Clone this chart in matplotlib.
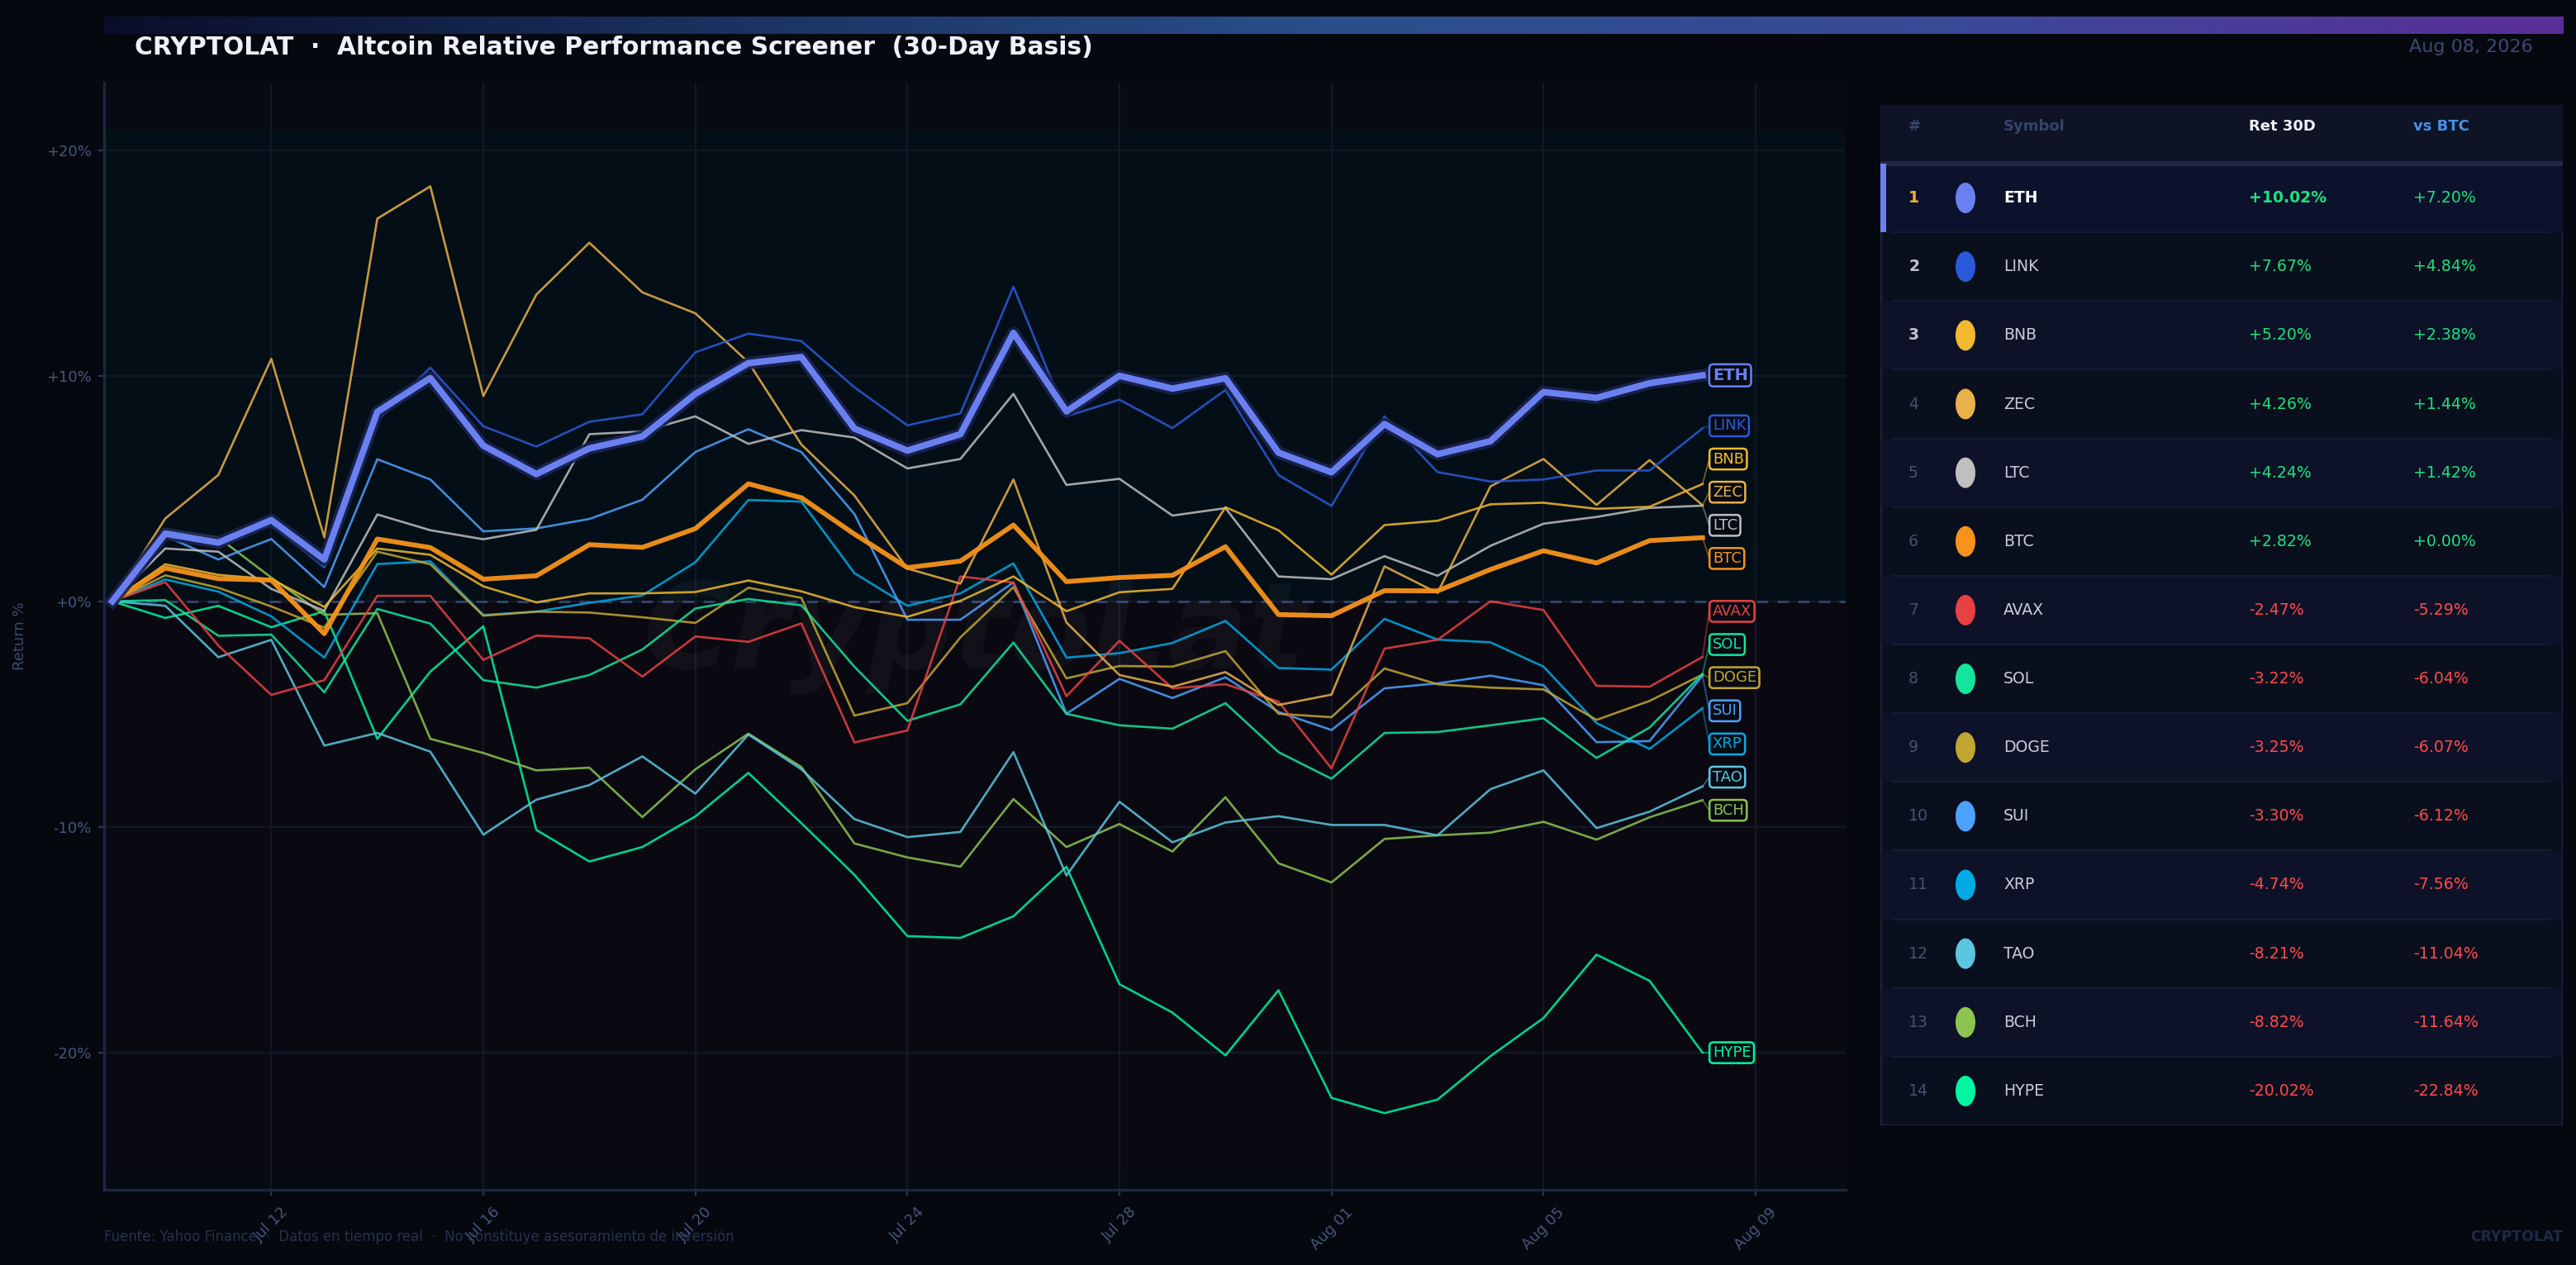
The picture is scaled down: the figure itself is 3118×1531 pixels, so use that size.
import numpy as np
import pandas as pd
import matplotlib
matplotlib.use('Agg')
import matplotlib.pyplot as plt
import matplotlib.dates as mdates
from matplotlib.patches import Ellipse, Rectangle
from matplotlib.colors import LinearSegmentedColormap
import matplotlib.patheffects as pe

# ---------------- data ----------------
dates = pd.date_range('2026-07-09', periods=31, freq='D')

ETH = [0, 3.0, 2.6, 3.6, 1.85, 8.4, 9.9, 6.9, 5.64, 6.78, 7.31, 9.2, 10.56, 10.83, 7.66, 6.68,
       7.41, 11.9, 8.42, 10.0, 9.43, 9.89, 6.59, 5.72, 7.86, 6.52, 7.1, 9.28, 9.02, 9.67, 10.02]
LINK = [0, 3.1, 2.5, 3.4, 1.5, 8.02, 10.36, 7.76, 6.86, 7.96, 8.29, 11.04, 11.87, 11.54, 9.49, 7.8,
        8.33, 13.95, 8.2, 8.94, 7.68, 9.37, 5.6, 4.23, 8.2, 5.73, 5.31, 5.4, 5.8, 5.8, 7.67]
BNB = [0, 1.64, 1.17, 0.98, -0.25, 2.34, 2.06, 0.66, -0.05, 0.35, 0.35, 0.41, 0.92, 0.44, -0.26, -0.69,
       0.02, 1.1, -0.44, 0.4, 0.55, 4.17, 3.15, 1.18, 3.38, 3.57, 4.3, 4.37, 4.1, 4.19, 5.20]
ZEC = [0, 3.67, 5.6, 10.75, 2.83, 16.97, 18.4, 9.1, 13.6, 15.9, 13.7, 12.77, 10.6, 6.95, 4.69, 1.45,
       0.78, 5.4, -0.94, -3.27, -3.79, -3.14, -4.6, -4.14, 1.55, 0.37, 5.1, 6.31, 4.27, 6.26, 4.26]
LTC = [0, 2.34, 2.2, 0.55, -0.42, 3.85, 3.15, 2.75, 3.17, 7.41, 7.53, 8.2, 6.98, 7.59, 7.26, 5.89,
       6.31, 9.2, 5.16, 5.43, 3.8, 4.13, 1.1, 0.98, 2.0, 1.13, 2.46, 3.44, 3.74, 4.14, 4.24]
BTC = [0, 1.47, 1.0, 0.94, -1.44, 2.76, 2.38, 0.98, 1.13, 2.51, 2.39, 3.22, 5.21, 4.59, 2.98, 1.49,
       1.78, 3.38, 0.87, 1.05, 1.15, 2.42, -0.59, -0.64, 0.47, 0.46, 1.41, 2.24, 1.7, 2.69, 2.82]
AVAX = [0, 0.85, -1.96, -4.15, -3.5, 0.24, 0.24, -2.6, -1.52, -1.64, -3.34, -1.56, -1.8, -0.98, -6.26, -5.73,
        1.1, 0.83, -4.21, -1.75, -3.86, -3.68, -4.45, -7.41, -2.1, -1.71, 0.0, -0.39, -3.75, -3.79, -2.47]
SOL = [0, 0.05, -1.53, -1.48, -4.04, -0.34, -0.99, -3.5, -3.83, -3.27, -2.14, -0.32, 0.1, -0.18, -2.9, -5.3,
       -4.57, -1.83, -4.99, -5.5, -5.65, -4.52, -6.69, -7.87, -5.84, -5.8, -5.5, -5.19, -6.95, -5.6, -3.22]
DOGE = [0, 1.15, 0.6, -0.23, -1.17, 2.2, 1.64, -0.64, -0.46, -0.5, -0.71, -0.96, 0.6, 0.15, -5.07, -4.52,
        -1.6, 0.63, -3.42, -2.87, -2.9, -2.21, -4.99, -5.14, -2.98, -3.68, -3.83, -3.91, -5.26, -4.42, -3.25]
SUI = [0, 2.9, 1.85, 2.76, 0.63, 6.3, 5.4, 3.1, 3.23, 3.65, 4.5, 6.62, 7.63, 6.62, 3.87, -0.82,
       -0.82, 0.84, -4.99, -3.44, -4.29, -3.37, -4.91, -5.71, -3.86, -3.64, -3.3, -3.72, -6.25, -6.2, -3.30]
XRP = [0, 0.97, 0.43, -0.67, -2.5, 1.65, 1.77, -0.61, -0.46, -0.07, 0.26, 1.73, 4.49, 4.42, 1.25, -0.2,
       0.35, 1.68, -2.5, -2.3, -1.85, -0.87, -2.96, -3.03, -0.78, -1.7, -1.82, -2.9, -5.4, -6.55, -4.74]
TAO = [0, -0.2, -2.48, -1.71, -6.4, -5.84, -6.67, -10.35, -8.8, -8.15, -6.88, -8.53, -5.91, -7.45, -9.66, -10.46,
       -10.23, -6.69, -12.16, -8.89, -10.69, -9.81, -9.53, -9.92, -9.92, -10.38, -8.33, -7.5, -10.06, -9.33, -8.21]
BCH = [0, 3.15, 2.83, 1.05, -0.6, -0.53, -6.1, -6.73, -7.5, -7.38, -9.57, -7.45, -5.87, -7.35, -10.74, -11.36,
       -11.77, -8.77, -10.9, -9.88, -11.1, -8.69, -11.62, -12.47, -10.54, -10.38, -10.26, -9.78, -10.57, -9.58, -8.82]
HYPE = [0, -0.74, -0.2, -1.15, -0.44, -6.1, -3.12, -1.11, -10.14, -11.54, -10.9, -9.54, -7.61, -9.84, -12.13, -14.85,
        -14.93, -13.97, -11.77, -16.98, -18.24, -20.14, -17.25, -22.02, -22.7, -22.1, -20.17, -18.48, -15.67, -16.83, -20.02]

symbols = ['ETH', 'LINK', 'BNB', 'ZEC', 'LTC', 'BTC', 'AVAX', 'SOL', 'DOGE', 'SUI', 'XRP', 'TAO', 'BCH', 'HYPE']
series = {'ETH': ETH, 'LINK': LINK, 'BNB': BNB, 'ZEC': ZEC, 'LTC': LTC, 'BTC': BTC, 'AVAX': AVAX,
          'SOL': SOL, 'DOGE': DOGE, 'SUI': SUI, 'XRP': XRP, 'TAO': TAO, 'BCH': BCH, 'HYPE': HYPE}
ret_30d = [10.02, 7.67, 5.20, 4.26, 4.24, 2.82, -2.47, -3.22, -3.25, -3.30, -4.74, -8.21, -8.82, -20.02]
vs_btc = [7.20, 4.84, 2.38, 1.44, 1.42, 0.00, -5.29, -6.04, -6.07, -6.12, -7.56, -11.04, -11.64, -22.84]

xtick_dates = ['2026-07-12', '2026-07-16', '2026-07-20', '2026-07-24', '2026-07-28',
               '2026-08-01', '2026-08-05', '2026-08-09']
ytick_vals = [-20, -10, 0, 10, 20]

title = 'CRYPTOLAT  \u00b7  Altcoin Relative Performance Screener  (30-Day Basis)'
date_text = 'Aug 08, 2026'
footer = 'Fuente: Yahoo Finance  \u00b7  Datos en tiempo real  \u00b7  No constituye asesoramiento de inversi\u00f3n'

# ---------------- styles ----------------
colors = {'ETH': '#6b80f0', 'LINK': '#2a5ada', 'BNB': '#f3ba2f', 'ZEC': '#e9b14a', 'LTC': '#bfbfbf',
          'BTC': '#f7931a', 'AVAX': '#e84142', 'SOL': '#14e59a', 'DOGE': '#c2a633', 'SUI': '#4da2ff',
          'XRP': '#00aae4', 'TAO': '#5cc6e0', 'BCH': '#8dc351', 'HYPE': '#00f5a0'}

W, H = 3118, 1531
fig = plt.figure(figsize=(W / 200, H / 200), dpi=200, facecolor='#05080f')

# gradient bar
axb = fig.add_axes([126 / W, 1 - 41 / H, (3102 - 126) / W, 21 / H])
cmap = LinearSegmentedColormap.from_list('bar', ['#0a0e2a', '#1a3260', '#2a4f8a', '#3a4a98', '#5a2e98'])
axb.imshow(np.linspace(0, 1, 512)[None, :], aspect='auto', cmap=cmap, extent=[0, 1, 0, 1])
axb.axis('off')

fig.text(163 / W, 1 - 57 / H, title, fontsize=10.7, fontweight='bold', color='#eef0fa', va='center')
fig.text(3066 / W, 1 - 57 / H, date_text, fontsize=8, color='#3d4a6e', ha='right', va='center')
fig.text(126 / W, 1 - 1497 / H, footer, fontsize=6, color='#28324d', ha='left', va='center')
fig.text(3102 / W, 1 - 1497 / H, 'CRYPTOLAT', fontsize=6.2, fontweight='bold', color='#1e2a46',
         ha='right', va='center')

# ---------------- main axes ----------------
ax = fig.add_axes([126 / W, 1 - 1440 / H, (2234 - 126) / W, (1440 - 100) / H])
ax.set_facecolor('#060a11')
ax.axhspan(0, 20.8, color='#040e16', zorder=0)
ax.axhspan(-25.2, 0, color='#0a0912', zorder=0)
ax.grid(True, color='#121828', lw=0.8, zorder=0.5)
ax.set_axisbelow(True)
ax.axhline(0, color='#34456c', lw=1.0, ls=(0, (5, 4)), zorder=1)

ax.text(0.5, 0.5, 'CryptoLat', transform=ax.transAxes, fontsize=52, fontweight='bold',
        style='italic', color='white', alpha=0.035, ha='center', va='center', zorder=1)

order_draw = [s for s in symbols if s not in ('ETH', 'BTC')][::-1]
for s in order_draw:
    ax.plot(dates, series[s], color=colors[s], lw=0.95, alpha=0.85, zorder=3)
ax.plot(dates, BTC, color=colors['BTC'], lw=2.1, alpha=0.95, zorder=4)
ax.plot(dates, ETH, color=colors['ETH'], lw=2.8, zorder=5,
        path_effects=[pe.Stroke(linewidth=5.4, foreground='#1a2350', alpha=0.9), pe.Normal()])

ax.set_ylim(-26.1, 23.0)
x0 = dates[0] - pd.Timedelta(hours=3.7)
x1 = dates[0] + pd.Timedelta(days=32.7)
ax.set_xlim(x0, x1)

ax.set_yticks(ytick_vals)
ax.set_yticklabels(['{:+.0f}%'.format(v) for v in ytick_vals])
ax.set_xticks(pd.to_datetime(xtick_dates))
ax.xaxis.set_major_formatter(mdates.DateFormatter('%b %d'))
ax.tick_params(axis='both', colors='#2a3656', labelcolor='#46567c', labelsize=6.5, length=2.5, width=0.8)
ax.tick_params(axis='y', pad=3)
ax.tick_params(axis='x', pad=4)
for lab in ax.get_xticklabels():
    lab.set_rotation(45)
    lab.set_ha('center')
for sp in ['top', 'right']:
    ax.spines[sp].set_visible(False)
for sp in ['left', 'bottom']:
    ax.spines[sp].set_color('#1c2643')
    ax.spines[sp].set_linewidth(1.2)
fig.text(24 / W, 1 - 770 / H, 'Return %', rotation=90, fontsize=6.5, color='#3a4a6e',
         ha='center', va='center')

# ---------------- end labels with declutter ----------------
def spread(vals, gap):
    idx = sorted(range(len(vals)), key=lambda i: -vals[i])
    clusters = [[i] for i in idx]
    def center(c):
        return sum(vals[i] for i in c) / len(c)
    changed = True
    while changed:
        changed = False
        for k in range(len(clusters) - 1):
            a, b = clusters[k], clusters[k + 1]
            bot_a = center(a) - gap * (len(a) - 1) / 2
            top_b = center(b) + gap * (len(b) - 1) / 2
            if bot_a - top_b < gap:
                clusters[k] = a + b
                del clusters[k + 1]
                changed = True
                break
    pos = {}
    for c in clusters:
        cc = center(c)
        top = cc + gap * (len(c) - 1) / 2
        for j, i in enumerate(c):
            pos[i] = top - gap * j
    return [pos[i] for i in range(len(vals))]

finals = [series[s][-1] for s in symbols]
label_y = spread(finals, 1.47)
last = dates[-1]
lx = last + pd.Timedelta(hours=4.5)
cx = last + pd.Timedelta(hours=3.0)
for s, v, ly in zip(symbols, finals, label_y):
    c = colors[s]
    ax.plot([last, cx], [v, ly], color=c, lw=0.6, alpha=0.5, zorder=2)
    ax.text(lx, ly, s, color=c, fontsize=7 if s == 'ETH' else 6.5,
            fontweight='bold' if s == 'ETH' else 'normal', ha='left', va='center', zorder=6,
            bbox=dict(boxstyle='round,pad=0.2,rounding_size=0.25', fc='#070b14', ec=c, lw=0.9))

# ---------------- table ----------------
TL, TT, TW, TH = 2276, 127, 826, 1235
axt = fig.add_axes([TL / W, 1 - (TT + TH) / H, TW / W, TH / H])
axt.set_xlim(0, TW)
axt.set_ylim(TH, 0)
axt.axis('off')
hdr_h = 71
row_h = (TH - hdr_h) / len(symbols)
axt.add_patch(Rectangle((0, 0), TW, TH, fc='#0a0f1e', ec='#1c2541', lw=1.2, zorder=0))
axt.add_patch(Rectangle((0, 0), TW, hdr_h, fc='#0e1426', ec='none', zorder=1))
axt.plot([0, TW], [hdr_h, hdr_h], color='#1f2a48', lw=2.0, zorder=2)

col_rank, col_dot, col_sym, col_ret, col_vs = 34, 103, 149, 446, 645
hy = 26
axt.text(col_rank, hy, '#', color='#36446a', fontsize=6.5, fontweight='bold', va='center')
axt.text(col_sym, hy, 'Symbol', color='#36446a', fontsize=6.5, fontweight='bold', va='center')
axt.text(col_ret, hy, 'Ret 30D', color='#eef0f8', fontsize=6.5, fontweight='bold', va='center')
axt.text(col_vs, hy, 'vs BTC', color='#4a8ee8', fontsize=6.5, fontweight='bold', va='center')

for r, s in enumerate(symbols):
    y0 = hdr_h + r * row_h
    yc = y0 + row_h / 2
    if r == 0:
        axt.add_patch(Rectangle((0, y0), TW, row_h, fc='#0c122c', ec='none', zorder=1))
        axt.add_patch(Rectangle((0, y0), 7, row_h, fc=colors['ETH'], ec='none', zorder=2))
    elif r % 2 == 0:
        axt.add_patch(Rectangle((1, y0), TW - 2, row_h, fc='#0d1228', ec='none', zorder=1))
    if r > 0:
        axt.plot([15, TW - 16], [y0, y0], color='#151c31', lw=0.8, zorder=2)
    if r == 0:
        rc, rw = '#f0b429', 'bold'
    elif r < 3:
        rc, rw = '#c0c4d0', 'bold'
    else:
        rc, rw = '#46516e', 'normal'
    axt.text(col_rank, yc, str(r + 1), color=rc, fontsize=6.8, fontweight=rw, va='center', zorder=3)
    axt.add_patch(Ellipse((col_dot, yc), 24, 37, fc=colors[s], ec='none', zorder=3))
    axt.text(col_sym, yc, s, color='#ffffff' if r == 0 else '#c8ccda', fontsize=6.8,
             fontweight='bold' if r == 0 else 'normal', va='center', zorder=3)
    rv, bv = ret_30d[r], vs_btc[r]
    axt.text(col_ret, yc, '{:+.2f}%'.format(rv), color='#1fe07e' if rv >= 0 else '#ff4a4a',
             fontsize=6.8, fontweight='bold' if r == 0 else 'normal', va='center', zorder=3)
    axt.text(col_vs, yc, '{:+.2f}%'.format(bv), color='#1fe07e' if bv >= 0 else '#ff4a4a',
             fontsize=6.8, va='center', zorder=3)

fig.savefig('out.png', dpi=200, facecolor=fig.get_facecolor())
